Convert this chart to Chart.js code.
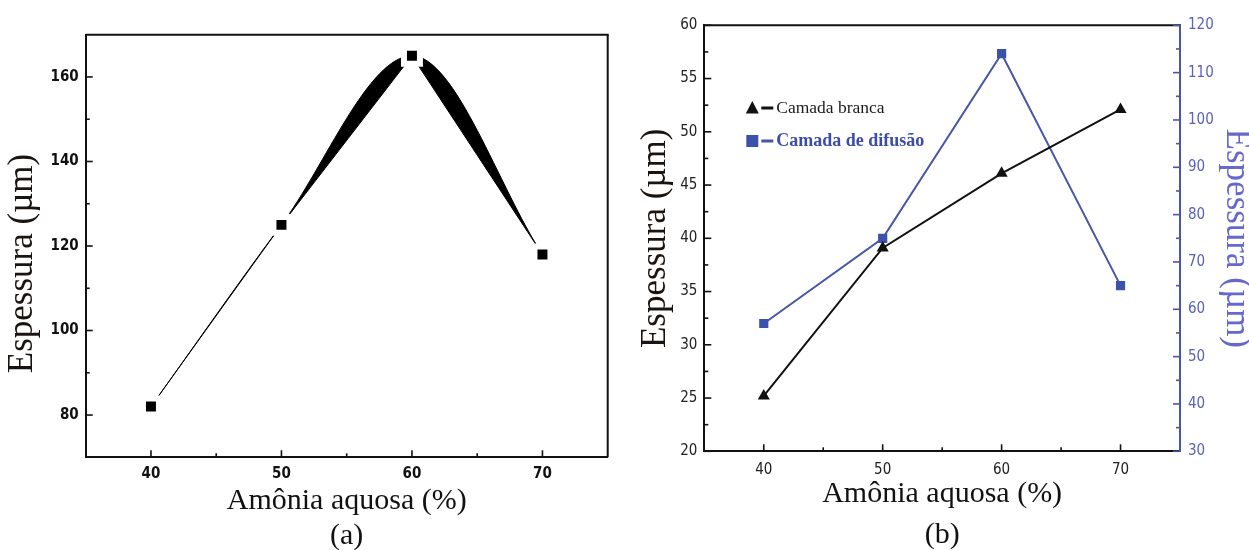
<!DOCTYPE html>
<html><head><meta charset="utf-8">
<script src="https://cdn.jsdelivr.net/npm/chart.js@4.4.1/dist/chart.umd.min.js"></script>
<style>
html,body{margin:0;padding:0;background:#fff;overflow:hidden;}
#cA{position:absolute;left:0;top:0;}
#cB{position:absolute;left:625px;top:0;}
</style></head><body>
<canvas id="cA" width="625" height="550"></canvas>
<canvas id="cB" width="624" height="550"></canvas>
<script>
// ---- data ----
const categories = [40, 50, 60, 70];            // Amônia aquosa (%)
const espessuraA = [82, 125, 165, 118];         // panel (a), µm
const camadaBranca = [25.2, 39.1, 46.1, 52.1];  // panel (b), left axis, µm
const camadaDifusao = [57, 75, 114, 65];        // panel (b), right axis, µm
const labelBranca = 'Camada branca';
const labelDifusao = 'Camada de difusão';
// ---- tick labels / tick marks ----
const xTicks = [40, 50, 60, 70];
const xMinor = [45, 55, 65];
const yTicksA = [80, 100, 120, 140, 160];
const yMinorA = [90, 110, 130, 150];
const yTicksB = [20, 25, 30, 35, 40, 45, 50, 55, 60];
const yMinorB = [22.5, 27.5, 32.5, 37.5, 42.5, 47.5, 52.5, 57.5];
const y2TicksB = [30, 40, 50, 60, 70, 80, 90, 100, 110, 120];
const y2MinorB = [35, 45, 55, 65, 75, 85, 95, 105, 115];

const NARROW = '"Liberation Sans Narrow", "DejaVu Sans Condensed", "Arial Narrow", "Liberation Sans", Arial, sans-serif';
const SERIF = '"Liberation Serif", "Times New Roman", serif';
const BLUE = '#4656a8';

const toPts = (ys) => categories.map((x, i) => ({x: x, y: ys[i]}));
const setTicks = (arr) => (scale) => { scale.ticks = arr.map(v => ({value: v})); };

// frame + inward tick marks, placed through the scales
function frameTicksPlugin(cfg) {
  return {
    id: 'frameTicks',
    afterDraw(chart) {
      const ctx = chart.ctx, a = chart.chartArea;
      ctx.save();
      ctx.lineCap = 'butt';
      ctx.strokeStyle = '#111'; ctx.lineWidth = 2;
      ctx.beginPath(); ctx.moveTo(a.left, a.top); ctx.lineTo(a.right + (cfg.rightColor ? 0 : 1), a.top); ctx.stroke();
      if (!cfg.rightColor) {
        ctx.beginPath(); ctx.moveTo(a.right, a.top); ctx.lineTo(a.right, a.bottom); ctx.stroke();
      }
      cfg.sets.forEach(s => {
        const sc = chart.scales[s.id];
        ctx.strokeStyle = s.color; ctx.lineWidth = 1.6;
        const draw = (v, len) => {
          const p = sc.getPixelForValue(v);
          ctx.beginPath();
          if (s.side === 'bottom') { ctx.moveTo(p, a.bottom); ctx.lineTo(p, a.bottom - len); }
          else if (s.side === 'left') { ctx.moveTo(a.left, p); ctx.lineTo(a.left + len, p); }
          else { ctx.moveTo(a.right, p); ctx.lineTo(a.right - len, p); }
          ctx.stroke();
        };
        s.major.forEach(v => draw(v, 7));
        s.minor.forEach(v => draw(v, 4));
      });
      ctx.restore();
    }
  };
}

// ---------- panel (a) ----------
const ptsA = toPts(espessuraA);
new Chart(document.getElementById('cA'), {
  type: 'line',
  data: { datasets: [
    { label: 'pontos', data: ptsA, showLine: false, pointStyle: 'rect', pointRadius: 11.3,
      pointBackgroundColor: '#000', pointBorderColor: '#fff', pointBorderWidth: 6, order: 0 },
    { label: 'reta', data: ptsA, tension: 0, borderColor: '#000', borderWidth: 1,
      pointRadius: 0, fill: false, order: 2 },
    { label: 'curva', data: ptsA, cubicInterpolationMode: 'monotone', borderColor: '#000', borderWidth: 1,
      pointRadius: 0, fill: '-1', backgroundColor: '#000', order: 1 }
  ]},
  options: {
    responsive: false, animation: false, events: [],
    layout: { padding: { left: 0, right: 16, top: 34.7, bottom: 0 } },
    plugins: { legend: { display: false }, tooltip: { enabled: false } },
    scales: {
      x: { type: 'linear', min: 35, max: 75, afterBuildTicks: setTicks(xTicks),
        grid: { display: false, drawTicks: false }, border: { display: true, color: '#111', width: 2 },
        ticks: { padding: 8, color: '#111', font: { family: NARROW, size: 15, weight: 'bold' } },
        title: { display: true, text: ['Amônia aquosa (%)', '(a)'], color: '#111',
          font: { family: SERIF, size: 30, lineHeight: 1.1667 }, padding: { top: 0, bottom: -4 } },
        afterFit: (s) => { s.height = 92.7; } },
      y: { type: 'linear', min: 70, max: 170, afterBuildTicks: setTicks(yTicksA),
        grid: { display: false, drawTicks: false }, border: { display: true, color: '#111', width: 2 },
        ticks: { padding: 7, color: '#111', font: { family: NARROW, size: 15, weight: 'bold' } },
        title: { display: true, text: 'Espessura (µm)    ', color: '#1a1410',
          font: { family: SERIF, size: 35, lineHeight: 1.2 }, padding: { top: 1.5, bottom: 0 } },
        afterFit: (s) => { s.width = 85.7; } }
    }
  },
  plugins: [frameTicksPlugin({ sets: [
    { id: 'x', side: 'bottom', color: '#111', major: xTicks, minor: xMinor },
    { id: 'y', side: 'left', color: '#111', major: yTicksA, minor: yMinorA }
  ]})]
});

// ---------- panel (b) ----------
const legendPlugin = {
  id: 'innerLegend',
  afterDraw(chart) {
    const ctx = chart.ctx, a = chart.chartArea;
    const items = [
      { ds: chart.data.datasets[0], dy: 82.7, font: '17.5px ' + SERIF },
      { ds: chart.data.datasets[1], dy: 115.7, font: 'bold 18px ' + SERIF }
    ];
    ctx.save();
    items.forEach(it => {
      const cx = a.left + 48, cy = a.top + it.dy;
      ctx.fillStyle = it.ds.pointBackgroundColor;
      ctx.beginPath();
      if (it.ds.pointStyle === 'triangle') {
        ctx.moveTo(cx, cy - 7); ctx.lineTo(cx + 6.5, cy + 5.5); ctx.lineTo(cx - 6.5, cy + 5.5); ctx.closePath();
      } else {
        ctx.rect(cx - 6, cy - 6, 12, 12);
      }
      ctx.fill();
      ctx.fillStyle = it.ds.borderColor;
      ctx.fillRect(cx + 9, cy - 1.5, 12, 3);
      ctx.fillStyle = it.ds.legendColor;
      ctx.font = it.font;
      ctx.textBaseline = 'middle';
      ctx.textAlign = 'left';
      ctx.fillText(it.ds.label, cx + 24, cy + 0.5);
    });
    ctx.restore();
  }
};

new Chart(document.getElementById('cB'), {
  type: 'line',
  data: { datasets: [
    { label: labelBranca, data: toPts(camadaBranca), yAxisID: 'y', tension: 0,
      borderColor: '#111', borderWidth: 2, pointStyle: 'triangle', pointRadius: 7,
      pointBackgroundColor: '#111', pointBorderColor: '#111', pointBorderWidth: 0, legendColor: '#1a1a1a' },
    { label: labelDifusao, data: toPts(camadaDifusao), yAxisID: 'y2', tension: 0,
      borderColor: BLUE, borderWidth: 2, pointStyle: 'rect', pointRadius: 6.5,
      pointBackgroundColor: '#3b52aa', pointBorderColor: '#3b52aa', pointBorderWidth: 0, legendColor: '#3d4ca6' }
  ]},
  options: {
    responsive: false, animation: false, events: [],
    layout: { padding: { left: 0, right: 0, top: 25.3, bottom: 0 } },
    plugins: { legend: { display: false }, tooltip: { enabled: false } },
    scales: {
      x: { type: 'linear', min: 35, max: 75, afterBuildTicks: setTicks(xTicks),
        grid: { display: false, drawTicks: false }, border: { display: true, color: '#111', width: 2 },
        ticks: { padding: 10, color: '#222', font: { family: NARROW, size: 15 } },
        title: { display: true, text: ['Amônia aquosa (%)', '(b)'], color: '#111',
          font: { family: SERIF, size: 30, lineHeight: 1.35 }, padding: { top: 0, bottom: -5 } },
        afterFit: (s) => { s.height = 98.7; } },
      y: { type: 'linear', position: 'left', min: 20, max: 60, afterBuildTicks: setTicks(yTicksB),
        grid: { display: false, drawTicks: false }, border: { display: true, color: '#111', width: 2 },
        ticks: { padding: 7, color: '#222', font: { family: NARROW, size: 15 } },
        title: { display: true, text: 'Espessura (µm)', color: '#1a1410',
          font: { family: SERIF, size: 35, lineHeight: 1.2 }, padding: { top: 10, bottom: 0 } },
        afterFit: (s) => { s.width = 79.3; } },
      y2: { type: 'linear', position: 'right', min: 30, max: 120, afterBuildTicks: setTicks(y2TicksB),
        grid: { display: false, drawTicks: false }, border: { display: true, color: BLUE, width: 2 },
        ticks: { padding: 8, color: '#5a60bb', font: { family: NARROW, size: 15 } },
        title: { display: true, text: 'Espessura (µm)', color: '#6668cc',
          font: { family: SERIF, size: 35, lineHeight: 1.2 }, padding: { top: -8, bottom: 0 } },
        afterFit: (s) => { s.width = 69; } }
    }
  },
  plugins: [frameTicksPlugin({ rightColor: BLUE, sets: [
    { id: 'x', side: 'bottom', color: '#111', major: xTicks, minor: xMinor },
    { id: 'y', side: 'left', color: '#111', major: yTicksB, minor: yMinorB },
    { id: 'y2', side: 'right', color: BLUE, major: y2TicksB, minor: y2MinorB }
  ]}), legendPlugin]
});
</script>
</body></html>
